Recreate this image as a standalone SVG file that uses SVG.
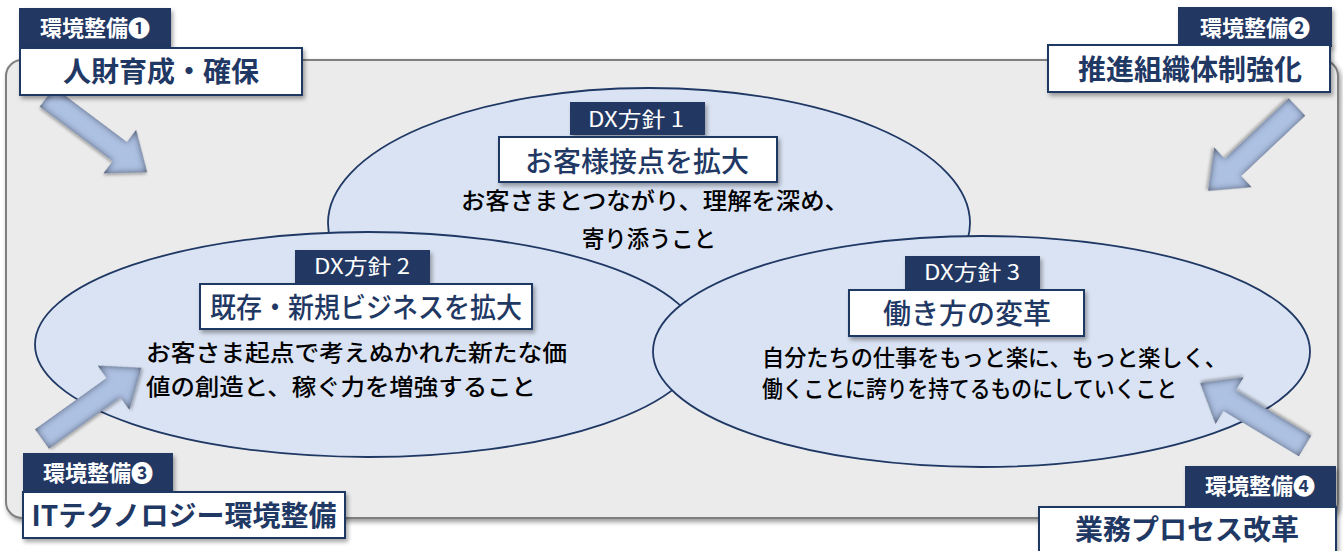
<svg xmlns="http://www.w3.org/2000/svg" width="1343" height="551" viewBox="0 0 1343 551">
<defs>
  <filter id="shadow" x="-10%" y="-10%" width="130%" height="140%">
    <feDropShadow dx="2" dy="3" stdDeviation="2" flood-color="#000" flood-opacity="0.35"/>
  </filter>
  <filter id="bgshadow" x="-5%" y="-5%" width="110%" height="115%">
    <feDropShadow dx="2" dy="3" stdDeviation="2.5" flood-color="#000" flood-opacity="0.4"/>
  </filter>
  <filter id="arrowFx" x="-30%" y="-60%" width="160%" height="220%">
    <feFlood flood-color="#16233d" flood-opacity="1" result="c"/>
    <feComposite in="c" in2="SourceAlpha" operator="out" result="inv"/>
    <feGaussianBlur in="inv" stdDeviation="3.5" result="blur"/>
    <feComposite in="blur" in2="SourceAlpha" operator="in" result="inner"/>
    <feDropShadow in="SourceAlpha" dx="1" dy="2" stdDeviation="1.5" flood-color="#000" flood-opacity="0.3" result="ds"/>
    <feMerge><feMergeNode in="ds"/><feMergeNode in="SourceGraphic"/><feMergeNode in="inner"/></feMerge>
  </filter>
  <path id="arrow122" d="M0,-12 L88,-12 L88,-27 L122,0 L88,27 L88,12 L0,12 Z"/>
  <path id="arrow125" d="M0,-12 L91,-12 L91,-27 L125,0 L91,27 L91,12 L0,12 Z"/>
</defs>
<style>
  .bg { fill: #ebebeb; stroke: #7f7f7f; stroke-width: 2; }
  .ell { fill: #dae3f3; stroke: #1f3864; stroke-width: 1.8; }
  .lab { fill: #203864; }
  .box { fill: #ffffff; stroke: #1f3864; stroke-width: 2; }
  .labt { font-family: "Noto Sans CJK JP", "Noto Sans", sans-serif; fill: #ffffff; text-anchor: middle; }
  .envl { font-size: 22px; font-weight: bold; }
  .dxl { font-size: 21px; }
  .tt { font-family: "Noto Sans CJK JP", "Noto Sans", sans-serif; fill: #1f3864; text-anchor: middle; }
  .envt { font-size: 28px; font-weight: bold; }
  .dxt { font-size: 28px; font-weight: 500; }
  .body { font-family: "Noto Sans CJK JP", "Noto Sans", sans-serif; fill: #000000; font-size: 23px; font-weight: 500; }
  .arr { fill: #adc1e3; }
</style>

<g id="background">
  <rect class="bg" x="6" y="60" width="1332" height="458" rx="16" ry="16" filter="url(#bgshadow)"/>
</g>

<g id="dx1">
  <ellipse class="ell" cx="649" cy="223" rx="321" ry="135"/>
</g>
<g id="dx2">
  <ellipse class="ell" cx="368" cy="344.5" rx="333" ry="112.5"/>
  <rect class="lab" x="295" y="250" width="135" height="33" filter="url(#shadow)"/>
  <text class="labt dxl" x="362" y="274" textLength="96" lengthAdjust="spacingAndGlyphs">DX方針 2</text>
  <rect class="box" x="200" y="284" width="332" height="45" filter="url(#shadow)"/>
  <text class="tt dxt" x="366" y="318" textLength="312" lengthAdjust="spacingAndGlyphs">既存・新規ビジネスを拡大</text>
  <text class="body" x="146" y="361" textLength="421" lengthAdjust="spacingAndGlyphs">お客さま起点で考えぬかれた新たな価</text>
  <text class="body" x="146" y="395" textLength="390" lengthAdjust="spacingAndGlyphs">値の創造と、稼ぐ力を増強すること</text>
</g>
<g id="dx1-labels">
  <rect class="lab" x="570" y="102" width="135" height="33" filter="url(#shadow)"/>
  <text class="labt dxl" x="636" y="127" textLength="96" lengthAdjust="spacingAndGlyphs">DX方針 1</text>
  <rect class="box" x="499" y="137" width="278" height="45" filter="url(#shadow)"/>
  <text class="tt dxt" x="637" y="172">お客様接点を拡大</text>
  <text class="body" x="461" y="209" textLength="388" lengthAdjust="spacingAndGlyphs">お客さまとつながり、理解を深め、</text>
  <text class="body" x="582" y="247" textLength="134" lengthAdjust="spacingAndGlyphs">寄り添うこと</text>
</g>
<g id="dx3">
  <ellipse class="ell" cx="981.5" cy="351.5" rx="328.5" ry="115.5"/>
  <rect class="lab" x="905" y="256" width="135" height="33" filter="url(#shadow)"/>
  <text class="labt dxl" x="972" y="280" textLength="96" lengthAdjust="spacingAndGlyphs">DX方針 3</text>
  <rect class="box" x="849" y="290" width="235" height="46" filter="url(#shadow)"/>
  <text class="tt dxt" x="967" y="324">働き方の変革</text>
  <text class="body" x="762" y="366" textLength="465" lengthAdjust="spacingAndGlyphs">自分たちの仕事をもっと楽に、もっと楽しく、</text>
  <text class="body" x="762" y="397" textLength="415" lengthAdjust="spacingAndGlyphs">働くことに誇りを持てるものにしていくこと</text>
</g>

<g id="connectors">
  <use href="#arrow125" class="arr" filter="url(#arrowFx)" transform="translate(47,97) rotate(36.9)"/>
  <use href="#arrow122" class="arr" filter="url(#arrowFx)" transform="translate(1297,107) rotate(136.7)"/>
  <use href="#arrow122" class="arr" filter="url(#arrowFx)" transform="translate(42,439) rotate(-35.6)"/>
  <use href="#arrow122" class="arr" filter="url(#arrowFx)" transform="translate(1305,446) rotate(-149)"/>
</g>

<g id="env1">
  <rect class="lab" x="19" y="8" width="152" height="39" filter="url(#shadow)"/>
  <text class="labt envl" x="95" y="36">環境整備❶</text>
  <rect class="box" x="20" y="48" width="282" height="47" filter="url(#shadow)"/>
  <text class="tt envt" x="161" y="82">人財育成・確保</text>
</g>
<g id="env2">
  <rect class="lab" x="1178" y="7" width="154" height="40" filter="url(#shadow)"/>
  <text class="labt envl" x="1255" y="36">環境整備❷</text>
  <rect class="box" x="1048" y="45" width="282" height="47" filter="url(#shadow)"/>
  <text class="tt envt" x="1190" y="80">推進組織体制強化</text>
</g>
<g id="env3">
  <rect class="lab" x="23" y="453" width="150" height="39" filter="url(#shadow)"/>
  <text class="labt envl" x="98" y="481">環境整備❸</text>
  <rect class="box" x="23" y="492" width="322" height="46" filter="url(#shadow)"/>
  <text class="tt envt" x="184" y="526">ITテクノロジー環境整備</text>
</g>
<g id="env4">
  <rect class="lab" x="1185" y="466" width="151" height="41" filter="url(#shadow)"/>
  <text class="labt envl" x="1260" y="494">環境整備❹</text>
  <rect class="box" x="1039" y="507" width="297" height="50" filter="url(#shadow)"/>
  <text class="tt envt" x="1187" y="540">業務プロセス改革</text>
</g>
</svg>
